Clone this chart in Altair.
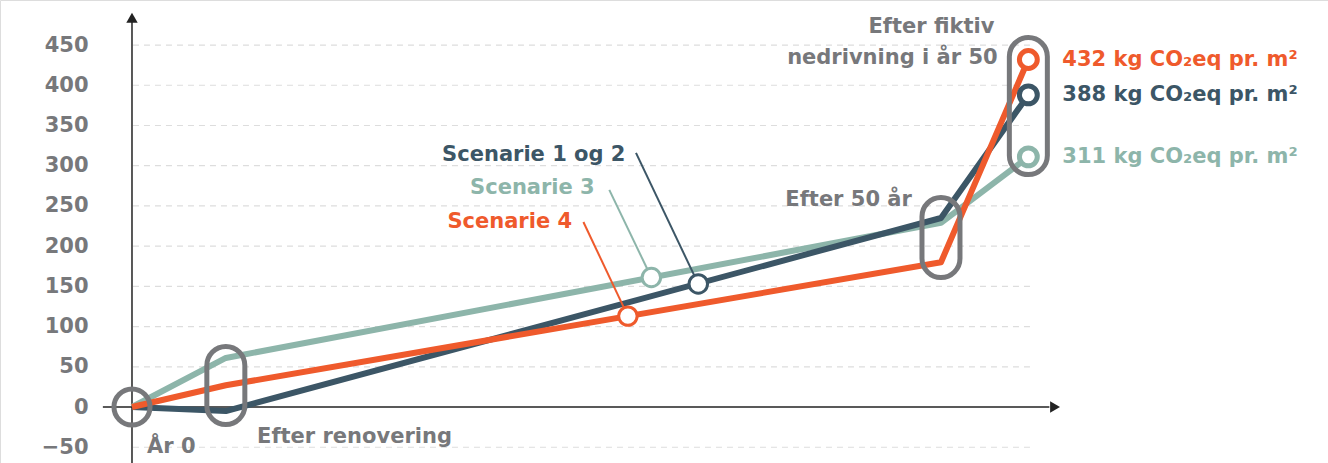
import altair as alt
import pandas as pd

# ---- data ----
stage_x = [0, 5.8, 50, 55.4]
scen12 = [0, -5, 235, 388]
scen3 = [0, 61, 229, 311]
scen4 = [0, 27, 180, 432]
series_names = ["Scenarie 3", "Scenarie 1 og 2", "Scenarie 4"]
y_ticks = [-50, 0, 50, 100, 150, 200, 250, 300, 350, 400, 450]
grid_vals = [-50, 50, 100, 150, 200, 250, 300, 350, 400, 450]

# callout markers on the lines (x, value) and label anchor
callout_x = [32.1, 35.0, 30.65]
callout_v = [161, 153, 113]
leader_x = [29.5, 31.15, 27.9]
leader_v = [270, 316, 230]
label_x = [28.6, 30.5, 27.2]
label_v = [272, 313, 230]

end_labels = ["311 kg CO₂eq pr. m²", "388 kg CO₂eq pr. m²", "432 kg CO₂eq pr. m²"]

# capsules: x centre, low, high
caps_x = [5.8, 50.0, 55.4]
caps_lo = [-21.8, 161, 289]
caps_hi = [75.2, 260.4, 459.3]

stage_text = ["År 0", "Efter renovering", "Efter 50 år", "Efter fiktiv", "nedrivning i år 50"]
stage_tx = [0.93, 7.73, 48.2, 53.3, 53.5]
stage_tv = [-50, -37, 257, 472, 434]
stage_align = ["left", "left", "right", "right", "right"]

ORANGE = "#EF5A2C"
DARK = "#3C5666"
TEAL = "#8DB5AA"
GRAY = "#77787B"
AXC = "#222222"
FONT = "DejaVu Sans"
colors = [TEAL, DARK, ORANGE]
values = [scen3, scen12, scen4]

XD = [-8.158, 73.92]
YD = [-69.6, 506.0]
xs = alt.Scale(domain=XD, nice=False, zero=False)
ys = alt.Scale(domain=YD, nice=False, zero=False)
yaxis = alt.Axis(values=y_ticks, offset=-88, domain=False, ticks=False, grid=False,
                 labelFont=FONT, labelFontSize=21, labelFontWeight="bold",
                 labelColor=GRAY, labelPadding=0, title=None)


def X(f):
    return alt.X(f, type="quantitative", scale=xs, axis=None)


def Y(f):
    return alt.Y(f, type="quantitative", scale=ys, axis=yaxis)


layers = []

# grid
grid_df = pd.DataFrame({"v": grid_vals, "x0": 0.06, "x1": 55.5})
layers.append(alt.Chart(grid_df).mark_rule(color="#DDDDDD", strokeWidth=1.2, strokeDash=[6, 5]).encode(
    x=X("x0"), x2="x1", y=Y("v")))

# axes lines
ax_df = pd.DataFrame({"x0": [-1.8], "x1": [56.7], "v": [0]})
layers.append(alt.Chart(ax_df).mark_rule(color=AXC, strokeWidth=1.5).encode(x=X("x0"), x2="x1", y=Y("v")))
ay_df = pd.DataFrame({"x": [0], "v0": [YD[0]], "v1": [479]})
layers.append(alt.Chart(ay_df).mark_rule(color=AXC, strokeWidth=1.5).encode(x=X("x"), y=Y("v0"), y2="v1"))
arr_df = pd.DataFrame({"x": [57.05, 0], "v": [0, 484], "shape": ["triangle-right", "triangle-up"]})
layers.append(alt.Chart(arr_df).mark_point(filled=True, color=AXC, opacity=1, size=130).encode(
    x=X("x"), y=Y("v"), shape=alt.Shape("shape:N", scale=None)))

# lines
for name, col, vals in zip(series_names, colors, values):
    df = pd.DataFrame({"x": stage_x, "v": vals})
    layers.append(alt.Chart(df).mark_line(color=col, strokeWidth=6, strokeJoin="round").encode(
        x=X("x"), y=Y("v")))

# leader lines + callout circles + labels
for i, (name, col) in enumerate(zip(series_names, colors)):
    ld = pd.DataFrame({"x": [callout_x[i]], "v": [callout_v[i]], "x2": [leader_x[i]], "v2": [leader_v[i]]})
    layers.append(alt.Chart(ld).mark_rule(color=col, strokeWidth=2).encode(
        x=X("x"), y=Y("v"), x2="x2", y2="v2"))
for i, (name, col) in enumerate(zip(series_names, colors)):
    cd = pd.DataFrame({"x": [callout_x[i]], "v": [callout_v[i]]})
    layers.append(alt.Chart(cd).mark_point(shape="circle", filled=False, fill="white", fillOpacity=1,
                                           stroke=col, strokeWidth=3, size=340, opacity=1).encode(
        x=X("x"), y=Y("v")))
    td = pd.DataFrame({"x": [label_x[i]], "v": [label_v[i]], "t": [name]})
    layers.append(alt.Chart(td).mark_text(align="right", baseline="middle", font=FONT, fontSize=21,
                                          fontWeight="bold", color=col).encode(
        x=X("x"), y=Y("v"), text="t:N"))

# capsules (gray outlines)
cap_df = pd.DataFrame({"x": caps_x, "lo": caps_lo, "hi": caps_hi})
layers.append(alt.Chart(cap_df).mark_rect(fill="white", fillOpacity=0, stroke=GRAY, strokeWidth=5,
                                          cornerRadius=19, xOffset=-19, x2Offset=19).encode(
    x=X("x"), x2="x", y=Y("lo"), y2="hi"))
orig_df = pd.DataFrame({"x": [stage_x[0]], "v": [scen12[0]]})
layers.append(alt.Chart(orig_df).mark_point(shape="circle", filled=False, stroke=GRAY, strokeWidth=5,
                                            size=1300, opacity=1).encode(x=X("x"), y=Y("v")))

# end circles
for name, col, vals in zip(series_names, colors, values):
    ed = pd.DataFrame({"x": [stage_x[-1]], "v": [vals[-1]]})
    layers.append(alt.Chart(ed).mark_point(shape="circle", filled=False, fill="white", fillOpacity=1,
                                           stroke=col, strokeWidth=5, size=320, opacity=1).encode(
        x=X("x"), y=Y("v")))
    lab = pd.DataFrame({"x": [57.5], "v": [vals[-1]], "t": [end_labels[series_names.index(name)]]})
    layers.append(alt.Chart(lab).mark_text(align="left", baseline="middle", font=FONT, fontSize=21,
                                           fontWeight="bold", color=col).encode(
        x=X("x"), y=Y("v"), text="t:N"))

# stage annotations
st_df = pd.DataFrame({"x": stage_tx, "v": stage_tv, "t": stage_text, "a": stage_align})
for a in ["left", "right"]:
    layers.append(alt.Chart(st_df[st_df.a == a]).mark_text(align=a, baseline="middle", font=FONT,
                                                          fontSize=21, fontWeight="bold", color=GRAY).encode(
        x=X("x"), y=Y("v"), text="t:N"))

chart = alt.layer(*layers).properties(
    width=1328, height=463, autosize=alt.AutoSizeParams(type="none"), padding=0
).configure_view(stroke=None).configure(background="white")

chart.save("out.html", embed_options={"renderer": "svg", "actions": False})
